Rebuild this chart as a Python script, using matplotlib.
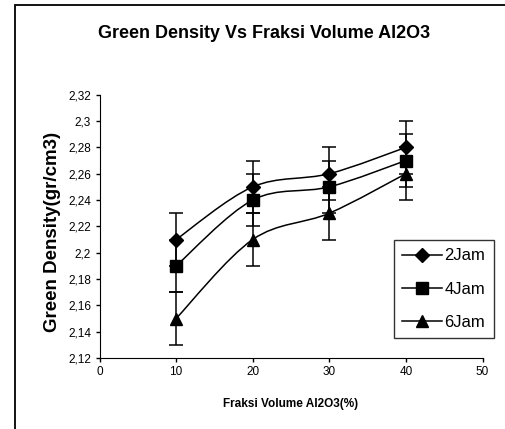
import numpy as np
import matplotlib
matplotlib.use("Agg")
import matplotlib.pyplot as plt
from matplotlib.path import Path
from matplotlib.patches import PathPatch, Rectangle
from matplotlib.lines import Line2D
from matplotlib.ticker import FuncFormatter

plt.rcParams['font.family'] = ['Liberation Sans', 'DejaVu Sans']

# data
fraksi = [10, 20, 30, 40]
jam2 = [2.21, 2.25, 2.26, 2.28]
jam4 = [2.19, 2.24, 2.25, 2.27]
jam6 = [2.15, 2.21, 2.23, 2.26]
err = [0.02, 0.02, 0.02, 0.02]
labels = ['2Jam', '4Jam', '6Jam']
markers = ['D', 's', '^']


# excel style smoothed line: bezier segments through the points
def smooth_path(x, y):
    p = np.column_stack([x, y]).astype(float)
    n = len(p)
    verts = [p[0]]
    codes = [Path.MOVETO]
    for i in range(n - 1):
        prev = p[i - 1] if i > 0 else p[i]
        nxt = p[i + 2] if i + 2 < n else p[i + 1]
        c1 = p[i] + (p[i + 1] - prev) / 6.0
        c2 = p[i + 1] - (nxt - p[i]) / 6.0
        verts += [c1, c2, p[i + 1]]
        codes += [Path.CURVE4] * 3
    return Path(verts, codes)


fig = plt.figure(figsize=(5.05, 4.29), dpi=100)
# outer chart frame (cut off at right and bottom)
fig.patches.append(Rectangle((15 / 505, -0.05), 1.0, 1 - 5 / 429 + 0.05,
                             transform=fig.transFigure, fill=False,
                             edgecolor='black', linewidth=1.3))

ax = fig.add_axes([99.5 / 505, 1 - 358 / 429, 383 / 505, 263.3 / 429])

for series, m in zip([jam2, jam4, jam6], markers):
    ax.add_patch(PathPatch(smooth_path(fraksi, series), fill=False,
                           edgecolor='black', linewidth=1.1))
    ms = 7 if m == 'D' else 8
    ax.errorbar(fraksi, series, yerr=err, fmt=m, color='black', ms=ms,
                ecolor='black', elinewidth=1.1, capsize=5, capthick=1.1)

ax.set_xlim(0, 50)
ax.set_ylim(2.12, 2.32)
ax.set_xticks([0, 10, 20, 30, 40, 50])
ax.set_yticks(np.arange(2.12, 2.3201, 0.02))
ax.yaxis.set_major_formatter(FuncFormatter(lambda v, p: ('%.2f' % v).rstrip('0').replace('.', ',')))
ax.tick_params(direction='out', length=3, width=1, labelsize=8.5, pad=3)
ax.spines['top'].set_visible(False)
ax.spines['right'].set_visible(False)

ax.set_xlabel('Fraksi Volume Al2O3(%)', fontsize=8.5, fontweight='bold', labelpad=14)
ax.set_ylabel('Green Density(gr/cm3)', fontsize=13.5, fontweight='bold')
ax.yaxis.set_label_coords(-0.10, 0.48)
fig.text(264 / 505, 1 - 33 / 429, 'Green Density Vs Fraksi Volume Al2O3',
         ha='center', va='center', fontsize=13, fontweight='bold')

handles = [Line2D([], [], color='black', marker=m, ms=(7 if m == 'D' else 8), lw=1.1)
           for m in markers]
leg = ax.legend(handles, labels, loc='upper left', bbox_to_anchor=(394 / 505, 1 - 240 / 429),
                bbox_transform=fig.transFigure, fontsize=12, frameon=True, fancybox=False,
                edgecolor='black', handlelength=2.4, handletextpad=0.12,
                borderpad=0.5, labelspacing=1.1, borderaxespad=0)
leg.get_frame().set_linewidth(1.0)

fig.savefig('out.png', dpi=100)
